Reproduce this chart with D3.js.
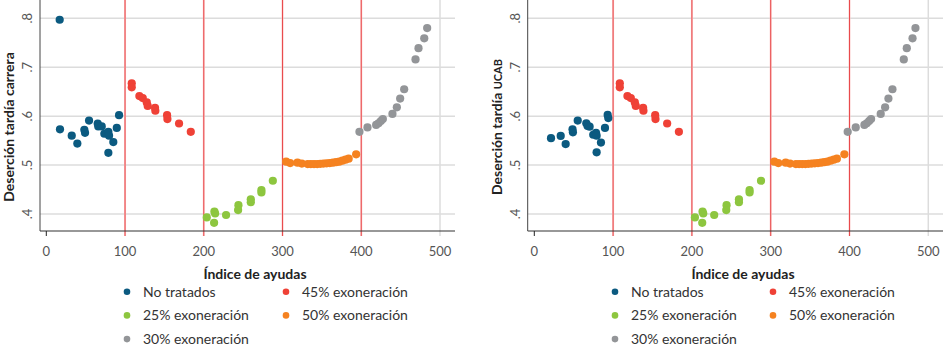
<!DOCTYPE html>
<html>
<head>
<meta charset="utf-8">
<script src="https://cdn.jsdelivr.net/npm/d3@7"></script>
<style>
  body { margin: 0; background: #fff; }
  svg { display: block; font-family: Lato, "Open Sans", sans-serif; }
</style>
</head>
<body>
<svg id="chart" width="946" height="346"></svg>
<script>
// ---- data ----
const xTicks = [0, 100, 200, 300, 400, 500];
const yTicks = [0.4, 0.5, 0.6, 0.7, 0.8];
const yTickLabels = [".4", ".5", ".6", ".7", ".8"];
const cutoffs = [100, 200, 300, 400];

const seriesNames = ["No tratados", "45% exoneración", "25% exoneración", "50% exoneración", "30% exoneración"];
const seriesColors = ["#0b5a80", "#ef4136", "#8dc63f", "#f58220", "#939598"];

// Panel 1: Deserción tardía carrera ; Panel 2: Deserción tardía UCAB
const blueX1 = [17, 17.4, 32.3, 39.4, 48.3, 49.2, 54.3, 65.3, 66, 70.4, 73.7, 78.8, 79.7, 78.8, 85.1, 89.5, 92.4];
const blueY1 = [0.797, 0.573, 0.560, 0.544, 0.572, 0.566, 0.591, 0.585, 0.579, 0.579, 0.564, 0.568, 0.560, 0.525, 0.547, 0.576, 0.602];
const blueX2 = [21.2, 33.5, 39.8, 48.5, 49, 55.1, 66, 67.6, 70.2, 74.8, 78.3, 79.1, 84.6, 79.1, 89.7, 93.1, 93.9];
const blueY2 = [0.555, 0.5595, 0.543, 0.573, 0.567, 0.591, 0.5855, 0.580, 0.5785, 0.562, 0.566, 0.560, 0.546, 0.526, 0.576, 0.6025, 0.596];

const redX = [108.5, 108.5, 118.2, 122.5, 127.6, 128.8, 138.1, 138.5, 153.4, 153.8, 168.6, 183.5];
const redY = [0.667, 0.659, 0.641, 0.637, 0.628, 0.621, 0.617, 0.611, 0.602, 0.594, 0.585, 0.568];

const greenX = [203.8, 213.5, 214.4, 213.1, 228.3, 244, 243.6, 259.7, 259.7, 273.2, 273.2, 287.7];
const greenY = [0.393, 0.405, 0.401, 0.382, 0.398, 0.418, 0.408, 0.430, 0.424, 0.449, 0.444, 0.468];

const orangeX = [304.6, 309.7, 319, 324.5, 332, 336, 340, 344, 348, 352, 356, 360, 364, 368, 372, 376, 380, 384, 393.5];
const orangeY = [0.507, 0.504, 0.505, 0.503, 0.502, 0.502, 0.502, 0.502, 0.5025, 0.503, 0.5035, 0.504, 0.505, 0.506, 0.507, 0.509, 0.511, 0.513, 0.522];

const grayX = [397.7, 407.9, 418.9, 421.9, 424.9, 427.4, 439.6, 445.2, 449.4, 454.5, 468.9, 472.7, 480, 483.7];
const grayY = [0.568, 0.577, 0.582, 0.5855, 0.590, 0.594, 0.6045, 0.618, 0.636, 0.655, 0.716, 0.739, 0.759, 0.780];

// ---- drawing ----
const svg = d3.select("#chart");

function zip(xs, ys) { return xs.map((x, i) => ({x, y: ys[i]})); }

function drawPanel(opt) {
  const g = svg.append("g");
  const x = d3.scaleLinear().domain([0, 500]).range([opt.x0, opt.x500]);
  const y = d3.scaleLinear().domain([0.4, 0.8]).range([214, 18.3]);
  const top = 0, bottom = 231;

  // horizontal gridlines
  g.selectAll("line.hg").data(yTicks).enter().append("line")
    .attr("x1", opt.axisX).attr("x2", opt.right)
    .attr("y1", d => y(d)).attr("y2", d => y(d))
    .attr("stroke", "#dcdcdc").attr("stroke-width", 1.5);

  // vertical grid at 500
  g.append("line")
    .attr("x1", x(500)).attr("x2", x(500)).attr("y1", top).attr("y2", bottom + 5)
    .attr("stroke", "#dcdcdc").attr("stroke-width", 1.5);

  // cutoff lines
  g.selectAll("line.cu").data(cutoffs).enter().append("line")
    .attr("x1", d => x(d)).attr("x2", d => x(d)).attr("y1", top).attr("y2", bottom + 5)
    .attr("stroke", "#fbcaca").attr("stroke-width", 2);
  g.selectAll("line.cr").data(cutoffs).enter().append("line")
    .attr("x1", d => x(d)).attr("x2", d => x(d)).attr("y1", top).attr("y2", bottom + 5)
    .attr("stroke", "#e63b3d").attr("stroke-width", 0.9);

  // axes lines
  g.append("line").attr("x1", opt.axisX).attr("x2", opt.axisX).attr("y1", top).attr("y2", bottom)
    .attr("stroke", "#444").attr("stroke-width", 1);
  g.append("line").attr("x1", opt.axisX).attr("x2", opt.right).attr("y1", bottom).attr("y2", bottom)
    .attr("stroke", "#333").attr("stroke-width", 1.2);
  // tick at 0
  g.append("line").attr("x1", x(0)).attr("x2", x(0)).attr("y1", bottom).attr("y2", bottom + 5)
    .attr("stroke", "#222").attr("stroke-width", 1);

  // x tick labels
  g.selectAll("text.xt").data(xTicks).enter().append("text")
    .attr("x", d => x(d)).attr("y", 255.5)
    .attr("text-anchor", "middle").attr("font-size", 13).attr("fill", "#555")
    .text(d => d);

  // y tick labels (rotated)
  g.selectAll("text.yt").data(yTicks).enter().append("text")
    .attr("transform", (d) => `translate(${opt.axisX - 8},${y(d)}) rotate(-90)`)
    .attr("text-anchor", "middle").attr("font-size", 13).attr("fill", "#555")
    .text((d, i) => yTickLabels[i]);

  // y title
  const yt = g.append("text")
    .attr("transform", `translate(${opt.axisX - 26},127) rotate(-90)`)
    .attr("text-anchor", "middle").attr("font-size", 14).attr("font-weight", "bold").attr("fill", "#222");
  yt.append("tspan").text(opt.yTitle);
  if (opt.yTitleSmall) yt.append("tspan").attr("font-size", 11).text(opt.yTitleSmall);

  // x title
  g.append("text").attr("x", opt.xTitleX).attr("y", 279)
    .attr("text-anchor", "middle").attr("font-size", 14).attr("font-weight", "bold").attr("fill", "#222")
    .text("Índice de ayudas");

  // points
  const series = [opt.blue, zip(redX, redY), zip(greenX, greenY), zip(orangeX, orangeY), zip(grayX, grayY)];
  series.forEach((s, i) => {
    g.selectAll(null).data(s).enter().append("circle")
      .attr("cx", d => x(d.x)).attr("cy", d => y(d.y)).attr("r", 4.1)
      .attr("fill", seriesColors[i]);
  });

  // legend
  const legPos = [[0, 0], [1, 0], [0, 1], [1, 1], [0, 2]];
  seriesNames.forEach((name, i) => {
    const [c, r] = legPos[i];
    const cy = 291.7 + r * 23.7;
    const dx = c === 0 ? opt.leg1 : opt.leg2;
    g.append("circle").attr("cx", dx).attr("cy", cy).attr("r", 3.3).attr("fill", seriesColors[i]);
    g.append("text").attr("x", dx + 16).attr("y", cy + 5).attr("font-size", 14).attr("fill", "#333").text(name);
  });
}

drawPanel({
  axisX: 40, x0: 46.3, x500: 440, right: 455, xTitleX: 255,
  yTitle: "Deserción tardía carrera", yTitleSmall: null,
  blue: zip(blueX1, blueY1), leg1: 127, leg2: 286
});
drawPanel({
  axisX: 527.7, x0: 534.3, x500: 928.3, right: 943, xTitleX: 743,
  yTitle: "Deserción tardía ", yTitleSmall: "UCAB",
  blue: zip(blueX2, blueY2), leg1: 615, leg2: 773
});
</script>
</body>
</html>
